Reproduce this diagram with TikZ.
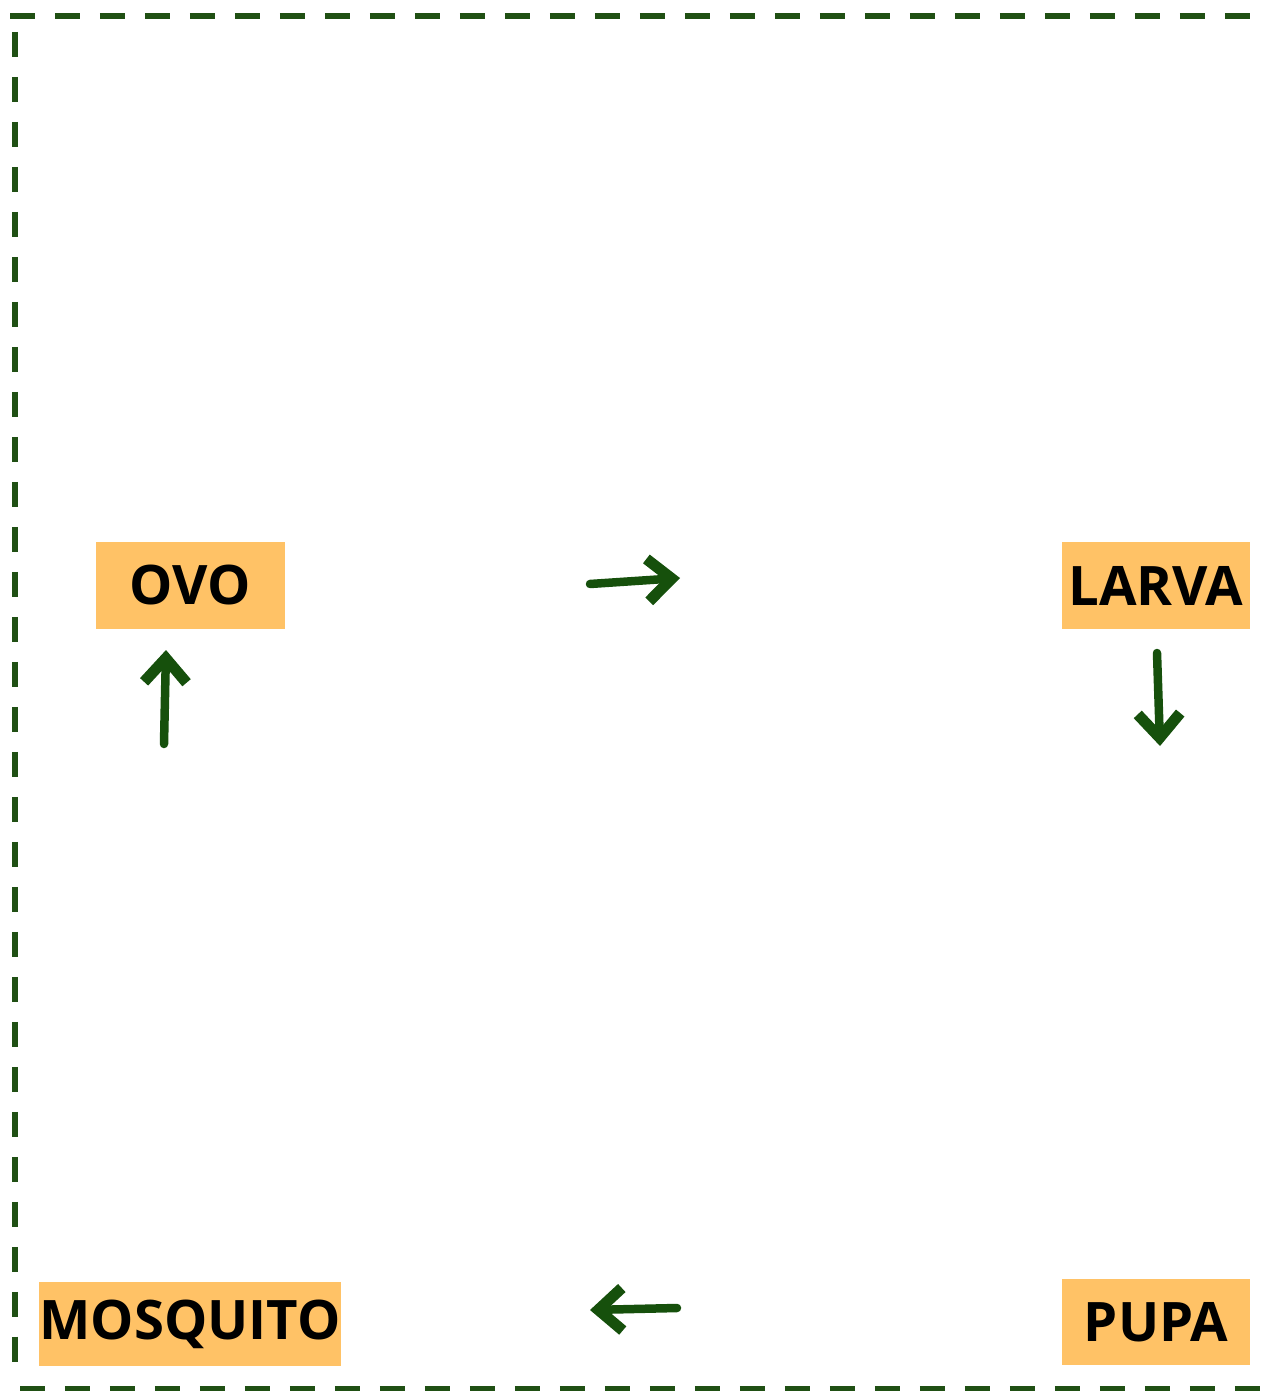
\documentclass[tikz,border=0pt]{standalone}
\usepackage{fontspec}
\setmainfont{Open Sans}
\usetikzlibrary{arrows.meta}
\definecolor{stagefill}{RGB}{255,194,102}
\definecolor{framegreen}{RGB}{32,80,20}
\definecolor{arrowgreen}{RGB}{22,80,12}

\begin{document}
\begin{tikzpicture}[x=0.02cm, y=-0.02cm,
  stage/.style={fill=stagefill, inner sep=0pt, font=\fontsize{31}{31}\selectfont\bfseries, text=black},
  cyc/.style={draw=arrowgreen, line width=0.17cm, line cap=round,
    -{Straight Barb[length=0.48cm, width=0.85cm, line width=0.22cm]}}]
  \useasboundingbox (0,0) rectangle (1274,1391);
  % dashed frame
  \draw[framegreen, line width=0.12cm, dash pattern=on 0.5cm off 0.4cm] (10,16) -- (1268,16);
  \draw[framegreen, line width=0.12cm, dash pattern=on 0.5cm off 0.4cm] (15,32) -- (15,1380);
  \draw[framegreen, line width=0.12cm, dash pattern=on 0.5cm off 0.4cm] (20,1389) -- (1268,1389);
  % stages
  \node[stage, minimum width=3.78cm, minimum height=1.74cm] (ovo) at (190.5,585.5) {OVO};
  \node[stage, minimum width=3.76cm, minimum height=1.74cm] (larva) at (1156,585.5) {LARVA};
  \node[stage, minimum width=3.76cm, minimum height=1.72cm] (pupa) at (1156,1322) {PUPA};
  \node[stage, minimum width=6cm, minimum height=1.68cm] (mosquito) at (190,1324) {\raisebox{-2pt}{MOSQUITO}};
  % arrows
  \coordinate (a1s) at (590,584);  \coordinate (a1e) at (680,578);
  \coordinate (a2s) at (1157,653); \coordinate (a2e) at (1160,746);
  \coordinate (a3s) at (677,1308); \coordinate (a3e) at (590,1310);
  \coordinate (a4s) at (164,744);  \coordinate (a4e) at (166,650);
  \draw[cyc] (a1s) -- (a1e);
  \draw[cyc] (a2s) -- (a2e);
  \draw[cyc] (a3s) -- (a3e);
  \draw[cyc] (a4s) -- (a4e);
\end{tikzpicture}
\end{document}
